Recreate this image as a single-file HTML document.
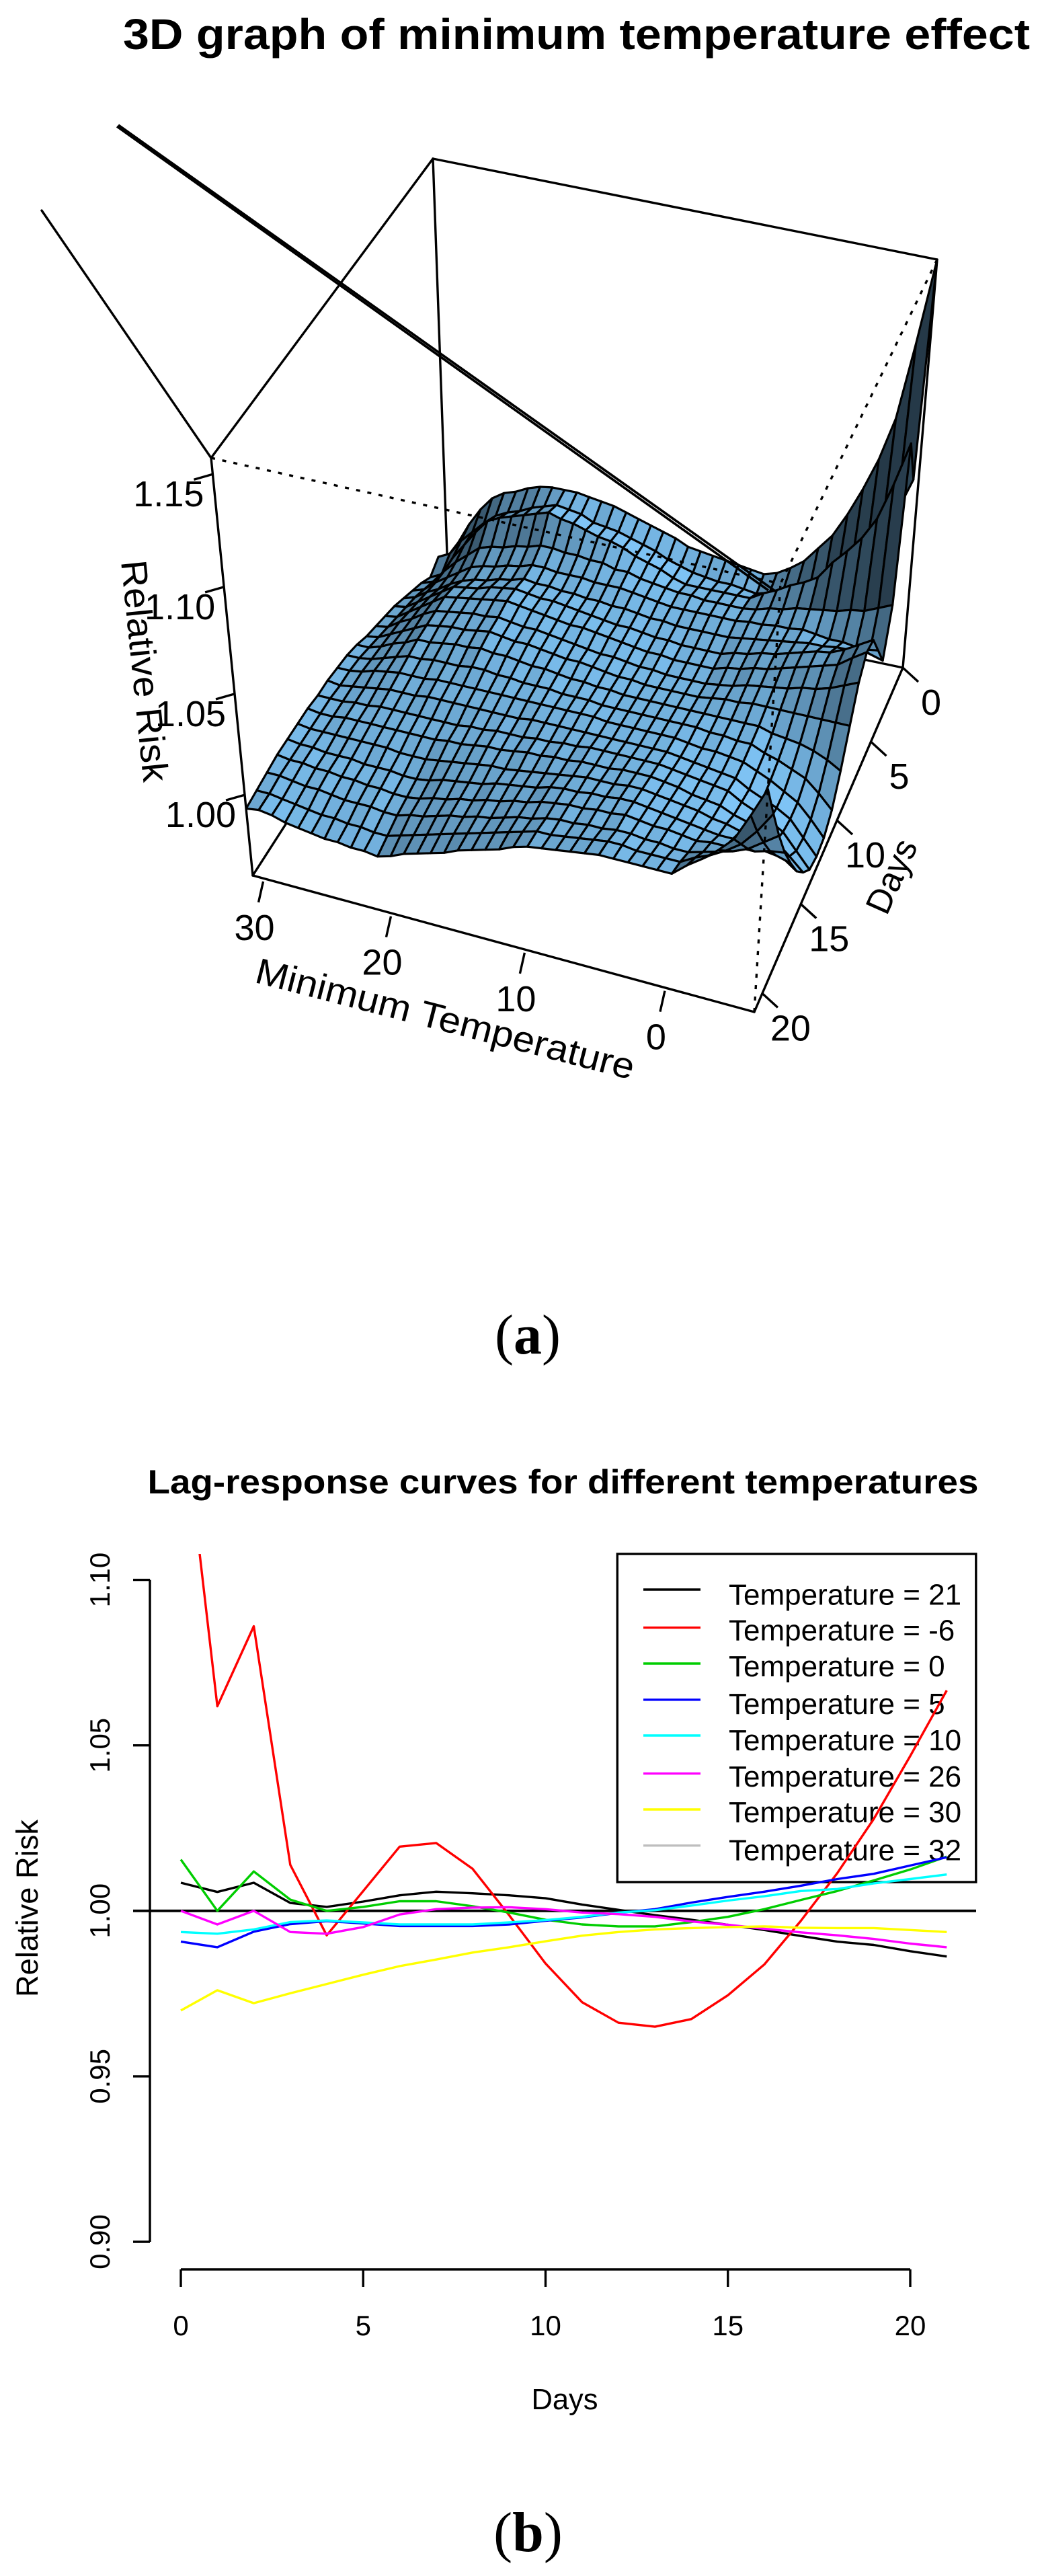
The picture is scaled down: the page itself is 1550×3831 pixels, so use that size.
<!DOCTYPE html>
<html lang="en">
<head>
<meta charset="utf-8">
<title>Minimum temperature effect</title>
<style>
html,body{margin:0;padding:0;background:#fff;}
svg{display:block;}
text{font-family:"Liberation Sans",Arial,sans-serif;fill:#000;}
.frame{stroke:#000;stroke-width:3.4;fill:none;stroke-linecap:round;}
.dot{stroke:#000;stroke-width:3.4;fill:none;stroke-dasharray:6 11;}
.caption{font-family:"Liberation Serif","Times New Roman",serif;font-size:84px;text-anchor:middle;}
</style>
</head>
<body>
<svg id="figure" xmlns="http://www.w3.org/2000/svg" width="1550" height="3831" viewBox="0 0 1550 3831">
<rect x="0" y="0" width="1550" height="3831" fill="#fff"/>

<g id="panel-a">
<text x="183" y="73" font-size="64" font-weight="700" textLength="1349" lengthAdjust="spacingAndGlyphs">3D graph of minimum temperature effect</text>
<g>
<line class="frame" x1="644" y1="236" x2="666" y2="851"/>
<line class="frame" x1="666" y1="851" x2="1343" y2="993"/>
<line class="frame" x1="666" y1="851" x2="376" y2="1302"/>
<line class="frame" x1="1394" y1="386" x2="1343" y2="993"/>
<line class="frame" x1="644" y1="236" x2="1394" y2="386"/>
<line class="frame" x1="314" y1="681" x2="644" y2="236"/>
<line class="frame" x1="314" y1="681" x2="376" y2="1302"/>
<line class="frame" x1="376" y1="1302" x2="1122" y2="1505"/>
<line class="frame" x1="1122" y1="1505" x2="1343" y2="993"/>
<line class="frame" x1="62" y1="313" x2="314" y2="681"/>
</g>
<g id="surface"></g>
<g>
<line class="dot" x1="314" y1="681" x2="1161" y2="868"/>
<line class="dot" x1="1394" y1="386" x2="1161" y2="868"/>
<line class="dot" x1="1122" y1="1505" x2="1161" y2="868"/>
<line x1="176" y1="186" x2="1153" y2="879" stroke="#000" stroke-width="3.6"/>
<line x1="174" y1="188" x2="1143" y2="878" stroke="#000" stroke-width="3.6"/>
</g>
<g id="axes-3d"></g>
<text transform="translate(180,835) rotate(84.2)" font-size="54" textLength="331" lengthAdjust="spacingAndGlyphs">Relative Risk</text>
<text transform="translate(377,1460.5) rotate(14.5)" font-size="54" textLength="580" lengthAdjust="spacingAndGlyphs">Minimum Temperature</text>
<text transform="translate(1319,1363) rotate(-66)" font-size="52" textLength="115" lengthAdjust="spacingAndGlyphs">Days</text>
<text class="caption" x="785" y="2013">(<tspan font-weight="700">a</tspan>)</text>
</g>

<g id="panel-b">
<text x="219.5" y="2221" font-size="50" font-weight="700" textLength="1236" lengthAdjust="spacingAndGlyphs">Lag-response curves for different temperatures</text>
<g id="lag-axes"></g>
<text transform="translate(56,2838) rotate(-90)" font-size="45" text-anchor="middle" textLength="264" lengthAdjust="spacingAndGlyphs">Relative Risk</text>
<text x="840" y="3583" font-size="43.5" text-anchor="middle">Days</text>
<g>
<rect x="918.3" y="2311" width="533.5" height="488" fill="none" stroke="#000" stroke-width="3.4"/>
<g><line x1="957" x2="1042" y1="2364" y2="2364" stroke="#000" stroke-width="3.4"/><text x="1084" y="2386.3" font-size="44">Temperature = 21</text></g>
<g><line x1="957" x2="1042" y1="2420.6" y2="2420.6" stroke="#ff0000" stroke-width="3.4"/><text x="1084" y="2439.4" font-size="44">Temperature = -6</text></g>
<g><line x1="957" x2="1042" y1="2474" y2="2474" stroke="#00cd00" stroke-width="3.4"/><text x="1084" y="2493" font-size="44">Temperature = 0</text></g>
<g><line x1="957" x2="1042" y1="2527.8" y2="2527.8" stroke="#0000ff" stroke-width="3.4"/><text x="1084" y="2548.8" font-size="44">Temperature = 5</text></g>
<g><line x1="957" x2="1042" y1="2581" y2="2581" stroke="#00ffff" stroke-width="3.4"/><text x="1084" y="2602.8" font-size="44">Temperature = 10</text></g>
<g><line x1="957" x2="1042" y1="2637.6" y2="2637.6" stroke="#ff00ff" stroke-width="3.4"/><text x="1084" y="2657" font-size="44">Temperature = 26</text></g>
<g><line x1="957" x2="1042" y1="2691" y2="2691" stroke="#ffff00" stroke-width="3.4"/><text x="1084" y="2710" font-size="44">Temperature = 30</text></g>
<g><line x1="957" x2="1042" y1="2744.7" y2="2744.7" stroke="#bebebe" stroke-width="3.4"/><text x="1084" y="2766.6" font-size="44">Temperature = 32</text></g>
</g>
<clipPath id="plot-clip"><rect x="0" y="2311" width="1550" height="1100"/></clipPath>
<g id="lag-series" clip-path="url(#plot-clip)"></g>
<text class="caption" x="785.5" y="3794">(<tspan font-weight="700">b</tspan>)</text>
</g>
</svg>

<script>
const days = [0,1,2,3,4,5,6,7,8,9,10,11,12,13,14,15,16,17,18,19,20,21];
const seriesT21 = [1.0085,1.0057,1.0085,1.0024,1.0012,1.0028,1.0047,1.0058,1.0053,1.0047,1.0038,1.0019,1.0003,.9987,.9973,.9958,.9942,.9924,.9907,.9897,.9878,.9862];
const seriesTm6 = [1.157,1.0618,1.086,1.0139,.9926,1.006,1.0194,1.0205,1.0127,.9987,.9841,.9724,.9662,.965,.9673,.9745,.9838,.997,1.0114,1.0278,1.0468,1.0666];
const seriesT0 = [1.0155,1.0,1.0119,1.0034,1.0,1.0012,1.0029,1.0029,1.0014,.9995,.9973,.9959,.9953,.9953,.9966,.9982,1.0005,1.0033,1.006,1.0092,1.0125,1.0164];
const seriesT5 = [.9907,.989,.9937,.996,.9969,.9962,.9954,.9954,.9954,.9959,.997,.998,.9994,1.0005,1.0025,1.0042,1.0058,1.0076,1.0096,1.0112,1.0137,1.0162];
const seriesT10 = [.9936,.9931,.9944,.9966,.9971,.9965,.9959,.9959,.9959,.9965,.9972,.9982,.9995,1.0002,1.0016,1.0031,1.0044,1.006,1.0066,1.0083,1.0096,1.011];
const seriesT26 = [1.0,.9959,1.0,.9936,.9931,.9951,.9989,1.0005,1.001,1.0011,1.0005,.9995,.999,.9982,.9968,.9958,.9946,.9935,.9926,.9915,.9901,.989];
const seriesT30 = [.9699,.976,.9721,.9751,.9779,.9807,.9833,.9853,.9874,.989,.9908,.9925,.9936,.9944,.9948,.9951,.9953,.9949,.9948,.9948,.9942,.9936];
const xTickLabels = [0,5,10,15,20];
const yTickLabels = ["0.90","0.95","1.00","1.05","1.10"];

const surfaceTemps = [-6,-5,-4,-3,-2,-1,0,1,2,3,4,5,6,7,8,9,10,11,12,13,14,15,16,17,18,19,20,21,22,23,24,25,26,27,28,29,30,31];
const surfaceLags = [0,1,2,3,4,5,6,7,8,9,10,11,12,13,14,15,16,17,18,19,20,21];
const surfaceZ = [
[1.157,1.118,1.082,1.061,1.045,1.031,1.019,1.011,1.003,.998,.994,.992,.993,.994,.995,.996,.997,.998,1.001,1.003,1.005,1.007,1.009,1.011,1.012,1.013,1.014,1.014,1.014,1.013,1.011,1.008,1.006,1.002,.995,.986,.975,.965],
[1.062,1.045,1.029,1.020,1.014,1.007,1.000,.998,.996,.993,.991,.989,.990,.991,.991,.992,.993,.995,.997,1.000,1.002,1.004,1.006,1.007,1.008,1.011,1.012,1.013,1.011,1.009,1.006,1.004,1.001,.996,.990,.984,.976,.973],
[1.086,1.065,1.047,1.036,1.028,1.021,1.012,1.008,1.005,1.001,.998,.994,.994,.994,.994,.994,.994,.996,.999,1.001,1.003,1.006,1.008,1.009,1.011,1.013,1.014,1.016,1.014,1.012,1.010,1.008,1.005,.998,.990,.982,.972,.969],
[1.014,1.011,1.008,1.007,1.005,1.004,1.003,1.002,1.000,.999,.997,.996,.996,.996,.996,.997,.997,.998,.999,1.000,1.002,1.002,1.004,1.004,1.005,1.005,1.006,1.006,1.004,1.003,1.001,1.000,.998,.993,.988,.982,.975,.973],
[.993,.995,.997,.998,.998,.999,1.000,.999,.999,.998,.998,.997,.997,.997,.997,.997,.997,.998,.999,1.000,1.001,1.001,1.001,1.002,1.002,1.002,1.003,1.003,1.001,1.000,.998,.997,.995,.991,.987,.983,.978,.976],
[1.006,1.005,1.003,1.003,1.002,1.002,1.001,1.000,.999,.998,.997,.996,.996,.996,.996,.996,.997,.997,.998,.999,.999,1.000,1.000,1.001,1.001,1.002,1.002,1.003,1.001,1.000,.998,.997,.995,.992,.988,.985,.981,.979],
[1.019,1.015,1.011,1.008,1.007,1.005,1.003,1.001,1.000,.998,.997,.995,.995,.995,.995,.996,.996,.997,.998,.998,.999,1.000,1.001,1.002,1.003,1.003,1.004,1.005,1.004,1.003,1.001,1.000,.999,.995,.991,.987,.983,.982],
[1.0205,1.016,1.011,1.009,1.007,1.005,1.003,1.001,1.000,.998,.997,.995,.995,.995,.995,.996,.996,.997,.998,.999,1.000,1.001,1.001,1.002,1.003,1.004,1.005,1.006,1.005,1.004,1.003,1.002,1.001,.997,.993,.989,.985,.984],
[1.013,1.010,1.007,1.005,1.004,1.002,1.001,1.000,.999,.997,.996,.995,.995,.995,.995,.996,.996,.997,.998,.998,.999,1.000,1.001,1.002,1.003,1.003,1.004,1.005,1.004,1.004,1.003,1.002,1.001,.998,.994,.991,.987,.986],
[.999,.999,.999,.999,.999,.999,.999,.999,.998,.998,.997,.996,.996,.996,.996,.996,.997,.997,.998,.999,1.000,1.000,1.001,1.002,1.003,1.003,1.004,1.005,1.004,1.003,1.003,1.002,1.001,.998,.995,.992,.989,.988],
[.984,.988,.991,.993,.994,.995,.997,.997,.997,.997,.997,.997,.997,.997,.997,.997,.997,.998,.998,.999,.999,1.000,1.001,1.001,1.002,1.003,1.003,1.004,1.003,1.003,1.002,1.001,1.001,.998,.996,.993,.991,.991],
[.972,.979,.985,.988,.991,.993,.996,.996,.997,.997,.998,.998,.998,.998,.998,.998,.998,.998,.999,.999,.999,1.000,1.000,1.000,1.001,1.001,1.002,1.002,1.001,1.001,1.001,1.000,1.000,.998,.996,.994,.993,.993],
[.966,.974,.981,.985,.989,.992,.995,.996,.997,.997,.998,.999,.999,.999,.999,.999,.999,1.000,1.000,1.000,1.000,1.000,1.000,1.000,1.000,1.000,1.000,1.000,1.000,1.000,.999,.999,.999,.998,.997,.995,.994,.994],
[.965,.973,.981,.985,.988,.991,.995,.996,.997,.998,.999,1.000,1.000,1.000,1.000,1.000,1.000,1.000,1.000,1.000,1.000,1.000,.999,.999,.999,.999,.999,.999,.999,.999,.998,.998,.998,.997,.996,.995,.994,.995],
[.967,.975,.983,.987,.990,.993,.997,.998,.999,1.000,1.001,1.002,1.002,1.002,1.002,1.002,1.002,1.001,1.001,1.000,1.000,.999,.999,.999,.998,.998,.997,.997,.997,.997,.997,.997,.997,.996,.996,.995,.995,.995],
[.9745,.981,.987,.990,.993,.995,.998,.999,1.000,1.002,1.003,1.004,1.004,1.004,1.003,1.003,1.003,1.002,1.002,1.001,1.001,1.000,.999,.999,.998,.997,.997,.996,.996,.996,.996,.996,.996,.996,.996,.995,.995,.996],
[.984,.989,.993,.995,.997,.999,1.000,1.002,1.003,1.004,1.005,1.006,1.006,1.005,1.005,1.005,1.004,1.003,1.002,1.001,1.000,.999,.999,.998,.997,.996,.995,.994,.994,.994,.995,.995,.995,.995,.995,.995,.995,.996],
[.997,.999,1.000,1.001,1.002,1.002,1.003,1.004,1.005,1.006,1.007,1.008,1.008,1.007,1.007,1.006,1.006,1.005,1.003,1.002,1.001,1.000,.998,.997,.996,.995,.993,.992,.992,.993,.993,.993,.994,.994,.994,.995,.995,.996],
[1.011,1.010,1.008,1.008,1.007,1.007,1.006,1.007,1.008,1.008,1.009,1.010,1.009,1.009,1.008,1.008,1.007,1.006,1.004,1.003,1.001,1.000,.998,.997,.995,.994,.992,.991,.991,.992,.992,.993,.993,.994,.994,.995,.995,.996],
[1.028,1.023,1.018,1.015,1.013,1.011,1.009,1.009,1.010,1.010,1.011,1.011,1.010,1.010,1.009,1.009,1.008,1.006,1.005,1.003,1.001,1.000,.998,.997,.995,.993,.992,.990,.990,.991,.991,.991,.992,.993,.993,.994,.995,.995],
[1.047,1.037,1.029,1.024,1.020,1.017,1.013,1.013,1.013,1.013,1.014,1.014,1.013,1.012,1.011,1.010,1.010,1.008,1.006,1.004,1.002,1.000,.998,.996,.994,.992,.990,.988,.988,.989,.989,.990,.990,.991,.992,.993,.994,.994],
[1.067,1.053,1.040,1.033,1.027,1.022,1.016,1.016,1.016,1.016,1.016,1.016,1.015,1.014,1.013,1.012,1.011,1.009,1.006,1.004,1.002,1.000,.997,.995,.993,.991,.988,.986,.987,.987,.988,.988,.989,.990,.991,.993,.994,.993]
];
const tempTickLabels = [30,20,10,0];
const lagTickLabels = [0,5,10,15,20];
const zTickLabels = ["1.00","1.05","1.10","1.15"];

const SVGNS = "http://www.w3.org/2000/svg";

function quadMap(p00, p10, p11, p01) {
  const sx = p00[0] - p10[0] + p11[0] - p01[0];
  const sy = p00[1] - p10[1] + p11[1] - p01[1];
  const dx1 = p10[0] - p11[0], dx2 = p01[0] - p11[0];
  const dy1 = p10[1] - p11[1], dy2 = p01[1] - p11[1];
  const den = dx1 * dy2 - dx2 * dy1;
  const g = (sx * dy2 - dx2 * sy) / den;
  const h = (dx1 * sy - sx * dy1) / den;
  const a = p10[0] - p00[0] + g * p10[0], b = p01[0] - p00[0] + h * p01[0];
  const d = p10[1] - p00[1] + g * p10[1], e = p01[1] - p00[1] + h * p01[1];
  return function (u, l) {
    const w = g * u + h * l + 1;
    return [(a * u + b * l + p00[0]) / w, (d * u + e * l + p00[1]) / w];
  };
}
const floorMap = quadMap([666,851],[1343,993],[1122,1505],[376,1302]);
const topMap = quadMap([644,236],[1394,386],[1161,868],[314,681]);
function tempScale(t) { return (31 - t) / 37; }
function lagScale(l) { return l / 21; }
function zScale(z) { const k = z - 1; return 0.193 + 4.7 * k + 2.8 * k * k; }
function project(t, l, z) {
  const u = tempScale(t), v = lagScale(l), w = zScale(z);
  const f = floorMap(u, v), c = topMap(u, v);
  return [f[0] + (c[0] - f[0]) * w, f[1] + (c[1] - f[1]) * w];
}
function shadeCell(zA, zB, zC, zD, dT, dL) {
  const zx = ((zB - zA + zC - zD) / 2 / dT) * 185;
  const zy = ((zD - zA + zC - zB) / 2 / dL) * 105;
  const len = Math.sqrt(zx * zx + zy * zy + 1);
  const dot = ((-zx) * -0.55 + (-zy) * -0.2 + 0.81) / len;
  const f = Math.pow((1 + dot) / 2, 1.2);
  const k = Math.max(0.29, Math.min(1, f));
  return "rgb(" + Math.round(128 * k) + "," + Math.round(198 * k) + "," + Math.round(248 * k) + ")";
}

const surfaceGroup = document.getElementById("surface");
for (let j = 0; j < surfaceLags.length - 1; j++) {
  for (let i = surfaceTemps.length - 2; i >= 0; i--) {
    const t0 = surfaceTemps[i], t1 = surfaceTemps[i + 1];
    const l0 = surfaceLags[j], l1 = surfaceLags[j + 1];
    const a = surfaceZ[j][i], b = surfaceZ[j][i + 1], c = surfaceZ[j + 1][i + 1], d = surfaceZ[j + 1][i];
    const pts = [project(t0, l0, a), project(t1, l0, b), project(t1, l1, c), project(t0, l1, d)];
    const cell = document.createElementNS(SVGNS, "polygon");
    cell.setAttribute("points", pts.map(function (p) { return p[0].toFixed(1) + "," + p[1].toFixed(1); }).join(" "));
    cell.setAttribute("fill", shadeCell(a, b, c, d, t1 - t0, l1 - l0));
    cell.setAttribute("stroke", "#000");
    cell.setAttribute("stroke-width", "3.2");
    cell.setAttribute("stroke-linejoin", "round");
    
    
    surfaceGroup.appendChild(cell);
  }
}

const axes3d = document.getElementById("axes-3d");
function addSegment(parent, x1, y1, x2, y2, width) {
  const s = document.createElementNS(SVGNS, "line");
  s.setAttribute("x1", x1);
  s.setAttribute("y1", y1);
  s.setAttribute("x2", x2);
  s.setAttribute("y2", y2);
  s.setAttribute("stroke", "#000");
  s.setAttribute("stroke-width", width);
  parent.appendChild(s);
  return s;
}
function addLabel(parent, str, x, y, size, anchor) {
  const t = document.createElementNS(SVGNS, "text");
  t.setAttribute("x", x);
  t.setAttribute("y", y);
  t.setAttribute("font-size", size);
  t.setAttribute("text-anchor", anchor);
  t.textContent = str;
  parent.appendChild(t);
  return t;
}
tempTickLabels.forEach(function (v) {
  const p = floorMap(tempScale(v), 1);
  const tick = addSegment(axes3d, p[0] - 3, p[1] + 4, p[0] - 10, p[1] + 35, 3.4);
  
  
  const lab = addLabel(axes3d, String(v), p[0] - 16, p[1] + 91, 54, "middle");
  
  
});
lagTickLabels.forEach(function (v) {
  const p = floorMap(1, lagScale(v));
  const tick = addSegment(axes3d, p[0], p[1], p[0] + 23, p[1] + 21, 3.4);
  
  
  const lab = addLabel(axes3d, String(v), p[0] + 42, p[1] + 70, 54, "middle");
  
  
});
zTickLabels.forEach(function (v) {
  const p = project(31, 21, parseFloat(v));
  const tick = addSegment(axes3d, p[0], p[1], p[0] - 28, p[1] + 8, 3.4);
  
  
  const lab = addLabel(axes3d, v, p[0] - 13, p[1] + 48, 54, "end");
  
  
});

function xDay(d) { return 269 + 54.25 * d; }
function yRisk(v) { return 2841.8 + (1 - v) * 4922; }
const lagAxes = document.getElementById("lag-axes");
const yAxisLine = addSegment(lagAxes, 223, yRisk(1.10), 223, yRisk(0.90), 3.4);


yTickLabels.forEach(function (v) {
  const y = yRisk(parseFloat(v));
  const tick = addSegment(lagAxes, 198, y, 223, y, 3.4);
  
  
  const lab = document.createElementNS(SVGNS, "text");
  lab.setAttribute("transform", "translate(163," + y + ") rotate(-90)");
  lab.setAttribute("font-size", "42");
  lab.setAttribute("text-anchor", "middle");
  lab.textContent = v;
  
  
  lagAxes.appendChild(lab);
});
const xAxisLine = addSegment(lagAxes, xDay(0), 3375, xDay(20), 3375, 3.4);


xTickLabels.forEach(function (v) {
  const x = xDay(v);
  const tick = addSegment(lagAxes, x, 3375, x, 3401, 3.4);
  
  
  const lab = addLabel(lagAxes, String(v), x, 3473, 42, "middle");
  
  
});

const refLine = addSegment(document.getElementById("lag-series"), 198, yRisk(1), 1452, yRisk(1), 3.8);



function addSeries(values, color) {
  const line = document.createElementNS(SVGNS, "polyline");
  line.setAttribute("points", values.map(function (v, i) { return xDay(days[i]).toFixed(1) + "," + yRisk(v).toFixed(1); }).join(" "));
  line.setAttribute("fill", "none");
  line.setAttribute("stroke", color);
  line.setAttribute("stroke-width", "3.4");
  line.setAttribute("stroke-linejoin", "round");
  document.getElementById("lag-series").appendChild(line);
  return line;
}
const lineT21 = addSeries(seriesT21, "#000000");


const lineTm6 = addSeries(seriesTm6, "#ff0000");


const lineT0 = addSeries(seriesT0, "#00cd00");


const lineT5 = addSeries(seriesT5, "#0000ff");


const lineT10 = addSeries(seriesT10, "#00ffff");


const lineT26 = addSeries(seriesT26, "#ff00ff");


const lineT30 = addSeries(seriesT30, "#ffff00");


</script>
</body>
</html>
